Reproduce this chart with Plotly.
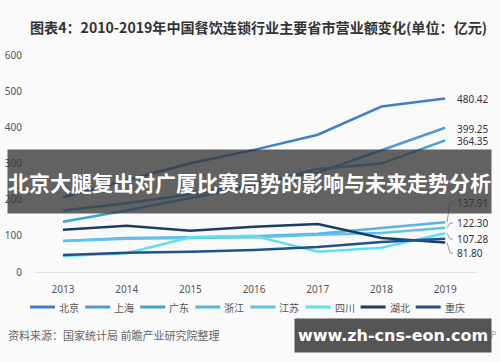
import plotly.graph_objects as go

years = [2013, 2014, 2015, 2016, 2017, 2018, 2019]
names = ["北京", "上海", "广东", "浙江", "江苏", "四川", "湖北", "重庆"]
beijing = [207, 254, 301, 338, 380, 458, 480.42]
shanghai = [170, 190, 215, 245, 275, 337, 399.25]
guangdong = [139, 170, 205, 240, 285, 300, 364.35]
zhejiang = [86, 94, 96, 99, 106, 122, 137.91]
jiangsu = [86, 92, 94, 96, 103, 108, 122.30]
sichuan = [44, 52, 96, 100, 56, 67, 107.28]
hubei = [117, 128, 114, 125, 133, 94, 81.80]
chongqing = [47, 53, 56, 61, 69, 83, 92]
end_labels = ["480.42", "399.25", "364.35", "137.91", "122.30", "107.28", "81.80"]
colors = ["#3f80c6", "#4f9ad6", "#3fa3d8", "#5ab3e2", "#5cc3ea", "#5fe0ec", "#1e3c62", "#21508f"]
series = [beijing, shanghai, guangdong, zhejiang, jiangsu, sichuan, hubei, chongqing]

L, T, PW, PH = 35, 48, 442, 224
def px(p):
    return (p - L) / PW
def py(p):
    return (T + PH - p) / PH

font_cjk = "Noto Sans CJK SC, Noto Sans, sans-serif"

fig = go.Figure()
for n, s, c in zip(names, series, colors):
    fig.add_trace(go.Scatter(x=years, y=s, mode="lines", name=n,
                             line=dict(color=c, width=2.5)))

# end labels (pixel y positions)
label_py = [99, 129, 141, 203, 223, 239, 253]
label_src = [beijing[-1], shanghai[-1], guangdong[-1], zhejiang[-1], jiangsu[-1], sichuan[-1], hubei[-1]]
for i, (txt, lp) in enumerate(zip(end_labels, label_py)):
    fig.add_annotation(x=px(455), y=py(lp), xref="paper", yref="paper", text=txt, showarrow=False,
                       xanchor="left", yanchor="middle",
                       font=dict(size=10, color="#333333", family="Noto Sans"))
    if i >= 3:
        fig.add_shape(type="path", xref="paper", yref="paper",
                      path="M %f,%f L %f,%f L %f,%f" % (
                          px(447), (label_src[i] / 620.0), px(450), py(lp), px(453), py(lp)),
                      line=dict(color="#9a9a9a", width=1))

# legend drawn by hand (one row)
for i, (n, c) in enumerate(zip(names, colors)):
    x0 = 30 + 55.1 * i
    fig.add_shape(type="line", xref="paper", yref="paper",
                  x0=px(x0), x1=px(x0 + 25), y0=py(307), y1=py(307),
                  line=dict(color=c, width=3))
    fig.add_annotation(text=n, xref="paper", yref="paper", x=px(x0 + 27), y=py(307.5),
                       xanchor="left", yanchor="middle", showarrow=False,
                       font=dict(size=10, color="#555555", family=font_cjk))

fig.update_layout(
    width=500, height=362,
    margin=dict(l=L, r=500 - L - PW, t=T, b=362 - T - PH, autoexpand=False),
    paper_bgcolor="#fafafb", plot_bgcolor="#fafafb",
    showlegend=False,
    xaxis=dict(range=[2012.56, 2019.5], tickvals=years, showgrid=False, zeroline=False,
               showline=False, automargin=False,
               tickfont=dict(size=10, color="#555555", family="Noto Sans"),
               ticks="outside", ticklen=8, tickcolor="rgba(0,0,0,0)"),
    yaxis=dict(range=[0, 620], tickvals=[0, 100, 200, 300, 400, 500, 600], showgrid=False,
               zeroline=True, zerolinecolor="#e3e3e3", zerolinewidth=1, automargin=False,
               tickfont=dict(size=10, color="#555555", family="Noto Sans"),
               ticks="outside", ticklen=10, tickcolor="rgba(0,0,0,0)"),
    font=dict(family=font_cjk),
)

# title
fig.add_annotation(text="<b>图表4：2010-2019年中国餐饮连锁行业主要省市营业额变化(单位：亿元)</b>",
                   xref="paper", yref="paper", x=px(28), y=py(27), xanchor="left", yanchor="middle",
                   showarrow=False, font=dict(size=14.1, color="#333333", family=font_cjk))

# banner
fig.add_annotation(text="<b>北京大腿复出对广厦比赛局势的影响与未来走势分析</b>",
                   xref="paper", yref="paper", x=px(249.5), y=py(181.5), xanchor="center", yanchor="middle",
                   width=483, height=63, bgcolor="rgba(55,55,55,0.78)", borderpad=0,
                   showarrow=False, font=dict(size=21, color="#ffffff", family=font_cjk))

# source
fig.add_annotation(text="资料来源：国家统计局 前瞻产业研究院整理", xref="paper", yref="paper",
                   x=px(6), y=py(335), xanchor="left", yanchor="middle", showarrow=False,
                   font=dict(size=11, color="#666666", family=font_cjk))
fig.add_annotation(text="@前瞻经济学人APP", xref="paper", yref="paper",
                   x=px(499), y=py(334), xanchor="right", yanchor="middle", showarrow=False,
                   font=dict(size=9, color="#aaaaaa", family=font_cjk))
fig.add_annotation(text="<b>www.zh-cns-eon.com</b>", xref="paper", yref="paper",
                   x=px(392.5), y=py(335.5), xanchor="center", yanchor="middle",
                   width=196, height=33, bgcolor="#555555", borderpad=0, showarrow=False,
                   font=dict(size=16, color="#ffffff", family="DejaVu Sans"))

fig.write_html("out.html", config={"displayModeBar": False},
               post_script="document.body.style.margin='0px';")
